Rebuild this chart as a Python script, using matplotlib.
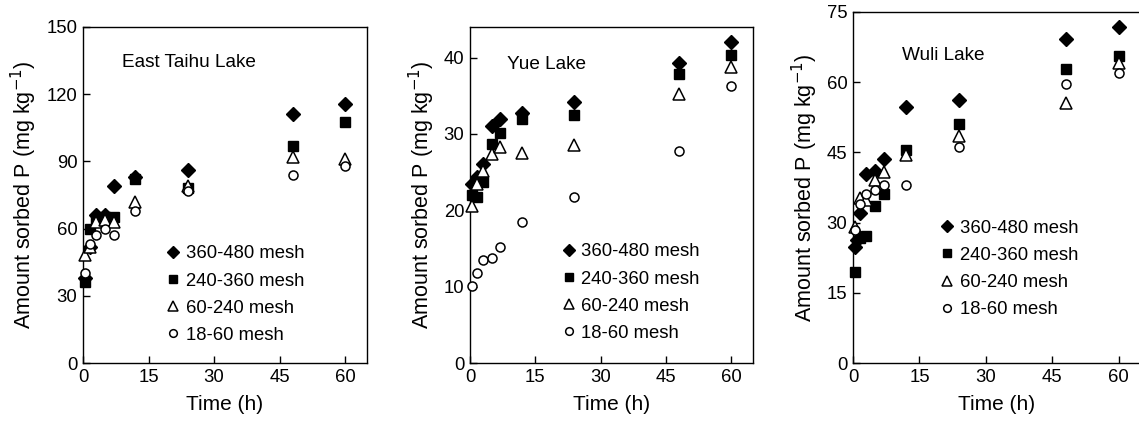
import matplotlib
matplotlib.use("Agg")
import matplotlib.pyplot as plt

plt.rcParams["font.family"] = ["Liberation Sans", "DejaVu Sans"]

# sampling times (h)
t = [0.5, 1.5, 3, 5, 7, 12, 24, 48, 60]
t_wuli_d = [0.5, 1, 1.5, 3, 5, 7, 12, 24, 48, 60]

mesh_labels = ["360-480 mesh", "240-360 mesh", "60-240 mesh", "18-60 mesh"]

# East Taihu Lake (mg/kg)
taihu_360 = [38, 52, 66, 66, 79, 83, 86, 111, 115.5]
taihu_240 = [36, 60, 64, 65, 65, 82, 78, 97, 107.5]
taihu_60 = [48, 52, 63, 64, 63, 72, 79, 92, 91]
taihu_18 = [40, 53, 57, 60, 57, 68, 77, 84, 88]

# Yue Lake
yue_360 = [23.5, 24.4, 26.1, 31.1, 31.9, 32.8, 34.2, 39.3, 42.0]
yue_240 = [22.0, 21.8, 23.7, 28.7, 30.1, 32.0, 32.5, 37.8, 40.3]
yue_60 = [20.5, 23.4, 25.2, 27.4, 28.3, 27.5, 28.5, 35.2, 38.8]
yue_18 = [10.1, 11.8, 13.5, 13.8, 15.2, 18.5, 21.7, 27.8, 36.3]

# Wuli Lake
wuli_360 = [24.8, 26.3, 32.0, 40.4, 41.1, 43.5, 54.7, 56.2, 69.2, 71.8]
wuli_240 = [19.5, 26.8, 27.1, 33.5, 36.1, 45.5, 51.0, 62.9, 65.6]
wuli_60 = [29.1, 35.2, 34.8, 39.1, 40.9, 44.4, 48.5, 55.6, 64.0]
wuli_18 = [28.5, 34.0, 36.2, 36.9, 38.0, 38.0, 46.2, 59.7, 61.9]

W, H = 1139, 428
fig = plt.figure(figsize=(W / 100, H / 100), dpi=100)

# (left, bottom, right, top) in pixels
boxes = [(83, 363, 367, 27), (470, 363, 753, 27), (853, 363, 1141, 12)]
axes = []
for l, b, r, tp in boxes:
    axes.append(fig.add_axes([l / W, 1 - b / H, (r - l) / W, (b - tp) / H]))

styles = [
    dict(marker="D", ms=7, mfc="black", mec="black"),
    dict(marker="s", ms=7, mfc="black", mec="black"),
    dict(marker="^", ms=8, mfc="white", mec="black", mew=1.1),
    dict(marker="o", ms=6.5, mfc="white", mec="black", mew=1.1),
]

panels = [
    ("East Taihu Lake", [t] * 4, [taihu_360, taihu_240, taihu_60, taihu_18],
     150, [0, 30, 60, 90, 120, 150], (0.136, 0.893), (0.292, 0.35)),
    ("Yue Lake", [t] * 4, [yue_360, yue_240, yue_60, yue_18],
     44, [0, 10, 20, 30, 40], (0.130, 0.887), (0.322, 0.356)),
    ("Wuli Lake", [t_wuli_d, t, t, t], [wuli_360, wuli_240, wuli_60, wuli_18],
     75, [0, 15, 30, 45, 60, 75], (0.169, 0.877), (0.301, 0.408)),
]

for ax, (name, times, series, ymax, yticks, tpos, lpos) in zip(axes, panels):
    for tt, vals, st, lab in zip(times, series, styles, mesh_labels):
        ax.plot(tt, vals, ls="none", label=lab, clip_on=False, zorder=3, **st)
    ax.set_xlim(0, 65)
    ax.set_ylim(0, ymax)
    ax.set_xticks([0, 15, 30, 45, 60])
    ax.set_yticks(yticks)
    ax.tick_params(direction="in", length=5, width=1, labelsize=13.3, pad=4)
    for sp in ax.spines.values():
        sp.set_linewidth(1.0)
    ax.set_xlabel("Time (h)", fontsize=15, labelpad=7)
    ax.set_ylabel("Amount sorbed P (mg kg$^{-1}$)", fontsize=15.5, labelpad=5)
    ax.text(tpos[0], tpos[1], name, transform=ax.transAxes, fontsize=13.7,
            ha="left", va="center")
    ax.legend(loc="upper left", bbox_to_anchor=lpos, frameon=False,
              fontsize=13.3, handlelength=0.8, handletextpad=0.3,
              labelspacing=0.55, borderpad=0, borderaxespad=0, markerscale=0.85)

fig.savefig("out.png", dpi=100)
